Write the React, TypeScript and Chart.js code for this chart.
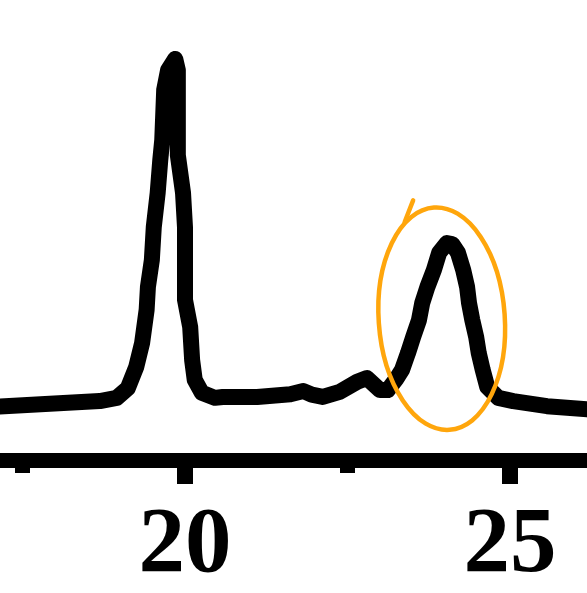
import React, { useEffect, useRef } from "react";
import { Chart, registerables } from "chart.js";

Chart.register(...registerables);

// Retention time (min) and detector signal (a.u.)
const times = [
  17.15, 17.92, 18.69, 18.95, 19.12, 19.25, 19.34, 19.41, 19.43, 19.49, 19.52, 19.58, 19.62, 19.65, 19.68, 19.74,
  19.85, 19.89, 19.89, 19.97, 20.0, 20.0, 20.08, 20.11, 20.15, 20.26, 20.46, 20.58, 21.11, 21.62, 21.82, 21.95,
  22.12, 22.38, 22.65, 22.8, 23.0, 23.12, 23.26, 23.34, 23.43, 23.51, 23.6, 23.65, 23.73, 23.83, 23.91, 24.03,
  24.11, 24.2, 24.28, 24.34, 24.37, 24.42, 24.48, 24.52, 24.58, 24.65, 24.82, 25.05, 25.57, 26.19,
];
const signal = [
  11.7, 12.3, 12.9, 13.6, 15.7, 20.3, 25.5, 32.7, 37.7, 43.5, 50.7, 58.1, 65.3, 69.6, 80.5, 84.8,
  87.2, 84.8, 66.3, 58.1, 50.7, 34.9, 29.0, 21.8, 17.5, 14.7, 13.6, 13.8, 13.8, 14.4, 15.1, 14.3,
  13.8, 14.9, 17.1, 17.9, 15.3, 15.3, 17.9, 19.7, 23.3, 26.8, 30.5, 34.2, 37.7, 41.4, 45.1, 47.2,
  47.0, 45.1, 41.4, 37.7, 34.2, 30.5, 26.8, 23.3, 19.7, 16.0, 13.6, 12.9, 11.8, 11.1,
];

const majorTicks = [20, 25];
const minorTicks = [17.5, 22.5];
const xMin = 17.154;
const xMax = 26.185;
const yMin = 0;
const yMax = 100;

// Hand-drawn highlight around the second peak (data units)
const markCenter = [23.95, 30.8];
const markRadius = [0.97, 24.2];
const markTail = [
  [23.51, 56.5],
  [23.38, 51.8],
];

const minorTickPlugin = {
  id: "minorTicks",
  afterDraw(chart: any) {
    const xs = chart.scales.x;
    const ctx = chart.ctx;
    ctx.save();
    ctx.strokeStyle = "#000";
    ctx.lineWidth = 15;
    ctx.lineCap = "butt";
    for (const v of minorTicks) {
      const px = xs.getPixelForValue(v);
      ctx.beginPath();
      ctx.moveTo(px, xs.top);
      ctx.lineTo(px, xs.top + 12.5);
      ctx.stroke();
    }
    ctx.restore();
  },
};

const markPlugin = {
  id: "mark",
  afterDatasetsDraw(chart: any) {
    const xs = chart.scales.x;
    const ys = chart.scales.y;
    const ctx = chart.ctx;
    const cx = xs.getPixelForValue(markCenter[0]);
    const cy = ys.getPixelForValue(markCenter[1]);
    const rx = Math.abs(xs.getPixelForValue(markCenter[0] + markRadius[0]) - cx);
    const ry = Math.abs(ys.getPixelForValue(markCenter[1] + markRadius[1]) - cy);
    ctx.save();
    ctx.strokeStyle = "#FFA60C";
    ctx.lineWidth = 4.5;
    ctx.lineCap = "round";
    ctx.beginPath();
    ctx.ellipse(cx, cy, rx, ry, -0.07, 0, Math.PI * 2);
    ctx.stroke();
    ctx.beginPath();
    ctx.moveTo(xs.getPixelForValue(markTail[0][0]), ys.getPixelForValue(markTail[0][1]));
    ctx.lineTo(xs.getPixelForValue(markTail[1][0]), ys.getPixelForValue(markTail[1][1]));
    ctx.stroke();
    ctx.restore();
  },
};

export default function App() {
  const ref = useRef<HTMLCanvasElement | null>(null);
  useEffect(() => {
    if (!ref.current) return;
    const chart = new Chart(ref.current, {
      type: "line",
      data: {
        datasets: [
          {
            data: times.map((t, i) => ({ x: t, y: signal[i] })),
            borderColor: "#000",
            borderWidth: 16,
            borderJoinStyle: "round",
            borderCapStyle: "round",
            pointRadius: 0,
            tension: 0,
            fill: false,
          },
        ],
      },
      options: {
        animation: false,
        responsive: false,
        devicePixelRatio: 1,
        layout: { padding: 0 },
        plugins: { legend: { display: false }, tooltip: { enabled: false } },
        scales: {
          x: {
            type: "linear",
            min: xMin,
            max: xMax,
            afterBuildTicks: (s: any) => {
              s.ticks = majorTicks.map((v) => ({ value: v }));
            },
            afterFit: (s: any) => {
              s.height = 132.5;
            },
            border: { display: true, color: "#000", width: 15 },
            grid: { drawOnChartArea: false, drawTicks: true, tickLength: 23.5, color: "#000", lineWidth: 16 },
            ticks: {
              color: "#000",
              padding: 16,
              autoSkip: false,
              maxRotation: 0,
              font: { family: "'Liberation Serif', 'Times New Roman', serif", weight: "bold", size: 93, lineHeight: 1 },
              callback: (v: any) => String(v),
            },
          },
          y: { display: false, min: yMin, max: yMax },
        },
      },
      plugins: [minorTickPlugin, markPlugin],
    });
    return () => chart.destroy();
  }, []);
  return (
    <div style={{ position: "fixed", left: 0, top: 0, width: 587, height: 593, background: "#fff" }}>
      <canvas ref={ref} width={587} height={593} />
    </div>
  );
}
